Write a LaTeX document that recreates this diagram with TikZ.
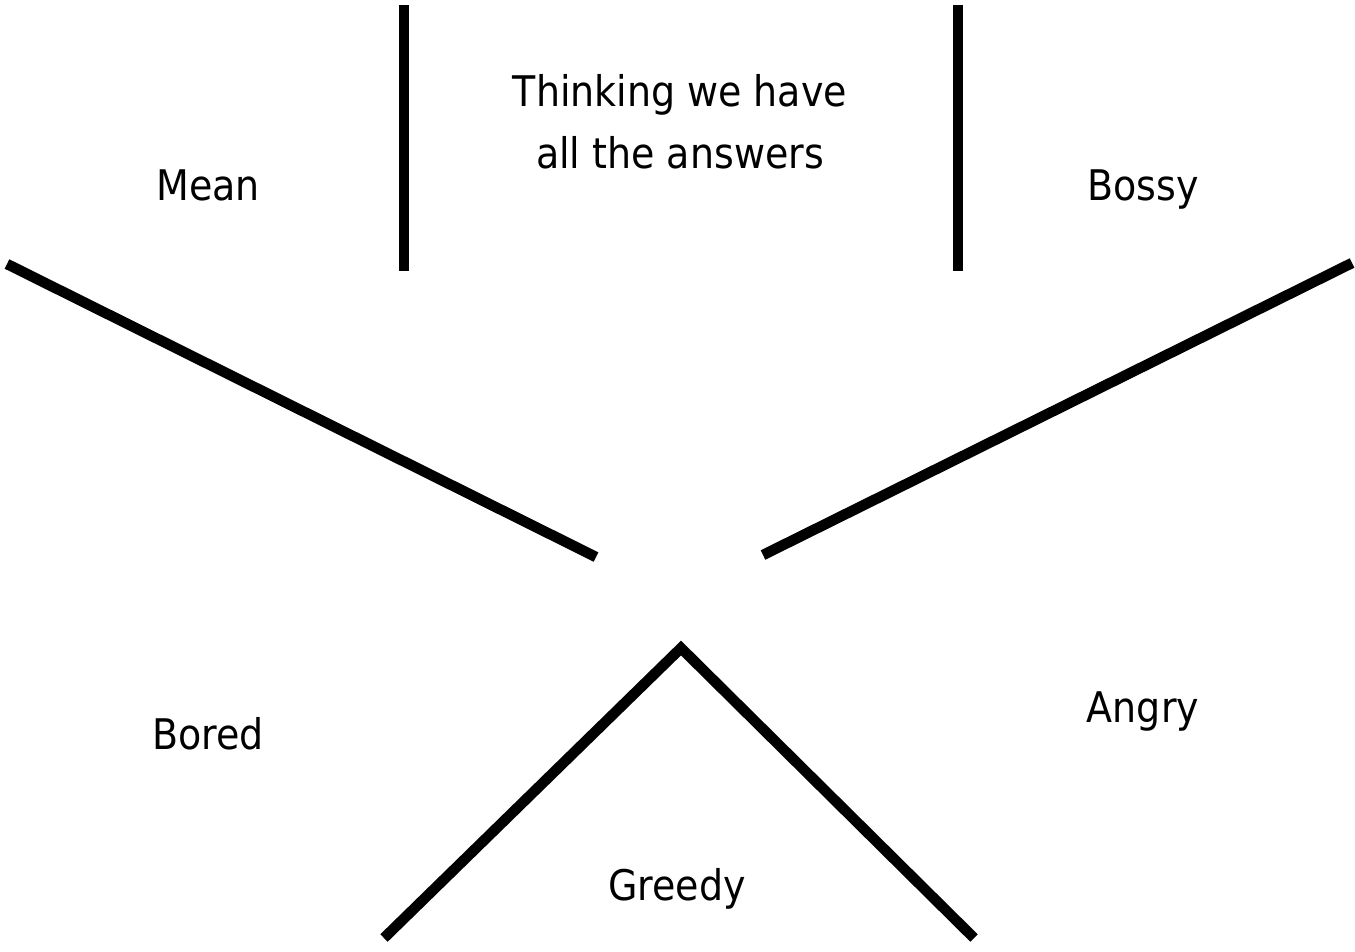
\documentclass[tikz,border=0pt]{standalone}
\usepackage{fontspec}
\setmainfont{DejaVu Sans Condensed}
\usetikzlibrary{positioning}

\begin{document}
\begin{tikzpicture}[
    x=0.01cm, y=-0.01cm,
    bar/.style={line width=0.105cm, line cap=butt},
    word/.style={anchor=base, font=\fontsize{12}{17.6}\selectfont}
]
\useasboundingbox (0,0) rectangle (1355,951);
% bar ends
\coordinate (lt) at (404,5);
\coordinate (lb) at (404,271);
\coordinate (rt) at (958,5);
\coordinate (rb) at (958,271);
\coordinate (ulo) at (7,264);
\coordinate (uli) at (596,557);
\coordinate (uro) at (1352,263);
\coordinate (uri) at (763,555);
\coordinate (bl) at (384,938);
\coordinate (apex) at (681,648);
\coordinate (br) at (974,938);
% words
\node[word] (think) at (680,106) {Thinking we have};
\node[word] (answers) at (680,168) {all the answers};
\node[word] (mean) at (208,200) {Mean};
\node[word] (bossy) at (1143,200) {Bossy};
\node[word] (bored) at (208,749) {Bored};
\node[word] (angry) at (1143,722) {Angry};
\node[word] (greedy) at (677,900) {Greedy};
% bars
\draw[bar] (lt) -- (lb);
\draw[bar] (rt) -- (rb);
\draw[bar] (ulo) -- (uli);
\draw[bar] (uro) -- (uri);
\draw[bar] (bl) -- (apex) -- (br);
\end{tikzpicture}
\end{document}
